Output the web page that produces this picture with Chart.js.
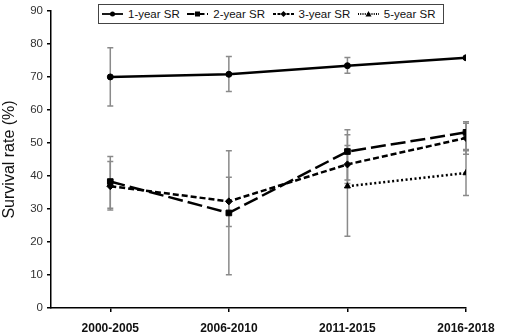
<!DOCTYPE html>
<html>
<head>
    <script src="https://cdn.jsdelivr.net/npm/chart.js@4.4.0/dist/chart.umd.min.js"></script>
    <style>
        body { margin: 0; background: #fff; }
        #wrap { position: relative; width: 510px; height: 335px; }
        #legend {
            position: absolute; left: 98px; top: 4px; width: 341px; height: 18px;
            border: 1px solid #444; background: #fff;
            font-family: "Liberation Sans", Arial, sans-serif; font-size: 11.5px; color: #111;
            display: flex; align-items: center; padding-left: 3px; box-sizing: content-box;
        }
        #legend .item { display: flex; align-items: center; width: 87px; white-space: nowrap; }
        #legend svg { margin-right: 5px; }
    </style>
</head>
<body>
<div id="wrap">
    <canvas id="srChart"></canvas>
    <div id="legend"></div>
</div>
<script>
    // periods on the x axis
    var categories = ['2000-2005', '2006-2010', '2011-2015', '2016-2018'];
    var yTicks = [0, 10, 20, 30, 40, 50, 60, 70, 80, 90];

    // survival rates (%)
    var sr1 = [70.0, 70.8, 73.4, 75.8];
    var sr2 = [38.3, 28.8, 47.4, 53.2];
    var sr3 = [36.9, 32.3, 43.5, 51.5];
    var sr5 = [null, null, 36.9, 40.9];

    // error bar ends (low / high)
    var sr1Low = [61.2, 65.6, 71.1, null];
    var sr1High = [78.8, 76.2, 75.9, null];
    var sr2Low = [29.7, 10.1, 38.8, 48.0];
    var sr2High = [45.9, 47.6, 54.0, 56.4];
    var sr3Low = [30.2, 24.7, 37.7, 46.6];
    var sr3High = [44.4, 39.6, 52.5, 56.0];
    var sr5Low = [null, null, 21.7, 34.1];
    var sr5High = [null, null, 49.2, 47.6];

    function toPoints(vals) {
        var pts = [];
        vals.forEach(function(v, i) { if (v !== null) pts.push({ x: i, y: v }); });
        return pts;
    }

    var series = [
        { label: '1-year SR', data: sr1, low: sr1Low, high: sr1High, dash: [], style: 'circle', r: 3 },
        { label: '2-year SR', data: sr2, low: sr2Low, high: sr2High, dash: [15, 5], style: 'rect', r: 4 },
        { label: '3-year SR', data: sr3, low: sr3Low, high: sr3High, dash: [6, 3], style: 'rectRot', r: 3.5 },
        { label: '5-year SR', data: sr5, low: sr5Low, high: sr5High, dash: [2, 2.5], style: 'triangle', r: 3.5 }
    ];

    // gray whiskers drawn behind the lines
    var errorBars = {
        id: 'errorBars',
        beforeDatasetsDraw: function(chart) {
            var ctx = chart.ctx, xs = chart.scales.x, ys = chart.scales.y;
            ctx.save();
            ctx.strokeStyle = '#8a8a8a';
            ctx.lineWidth = 1.5;
            series.forEach(function(s) {
                s.data.forEach(function(v, i) {
                    if (v === null || s.low[i] === null) return;
                    var x = xs.getPixelForValue(i);
                    var yl = ys.getPixelForValue(s.low[i]);
                    var yh = ys.getPixelForValue(s.high[i]);
                    ctx.beginPath();
                    ctx.moveTo(x, yl); ctx.lineTo(x, yh);
                    ctx.moveTo(x - 3, yl); ctx.lineTo(x + 3, yl);
                    ctx.moveTo(x - 3, yh); ctx.lineTo(x + 3, yh);
                    ctx.stroke();
                });
            });
            ctx.restore();
        }
    };

    var font = "'Liberation Sans', Arial, sans-serif";

    var chart = new Chart(document.getElementById('srChart').getContext('2d'), {
        type: 'line',
        data: {
            datasets: series.map(function(s) {
                return {
                    label: s.label,
                    data: toPoints(s.data),
                    borderColor: '#000',
                    backgroundColor: '#000',
                    borderWidth: 2.5,
                    borderDash: s.dash,
                    pointStyle: s.style,
                    pointRadius: s.r,
                    pointBorderWidth: 1,
                    pointBackgroundColor: '#000',
                    pointBorderColor: '#000',
                    tension: 0,
                    fill: false
                };
            })
        },
        options: {
            responsive: true,
            maintainAspectRatio: false,
            animation: false,
            layout: { padding: { top: 10, right: 44, left: 0, bottom: 0 } },
            plugins: { legend: { display: false }, tooltip: { enabled: false } },
            scales: {
                x: {
                    type: 'linear',
                    min: -0.5,
                    max: categories.length - 1,
                    afterBuildTicks: function(scale) {
                        scale.ticks = categories.map(function(c, i) { return { value: i }; });
                    },
                    afterFit: function(scale) { scale.height = 27; },
                    ticks: {
                        callback: function(v) { return categories[v]; },
                        font: { family: font, size: 12, weight: 'bold' },
                        color: '#111',
                        padding: 9,
                        maxRotation: 0
                    },
                    grid: { drawOnChartArea: false, drawTicks: true, tickLength: 4, color: '#000', lineWidth: 1.5 },
                    border: { display: true, color: '#000', width: 1.5 }
                },
                y: {
                    min: 0,
                    max: 90,
                    afterBuildTicks: function(scale) {
                        scale.ticks = yTicks.map(function(t) { return { value: t }; });
                    },
                    afterFit: function(scale) { scale.width = 51; },
                    ticks: {
                        font: { family: font, size: 11.5 },
                        color: '#333',
                        padding: 4
                    },
                    title: {
                        display: true,
                        text: 'Survival rate (%)',
                        font: { family: font, size: 16 },
                        color: '#111',
                        padding: { top: 0, bottom: 0 }
                    },
                    grid: { drawOnChartArea: false, drawTicks: true, tickLength: 4, color: '#000', lineWidth: 1.5 },
                    border: { display: true, color: '#000', width: 1.5 }
                }
            }
        },
        plugins: [errorBars]
    });

    // boxed legend with line + marker samples
    function markerSvg(style, cx, cy) {
        if (style === 'circle') return '<circle cx="' + cx + '" cy="' + cy + '" r="2.5" fill="#000"/>';
        if (style === 'rect') return '<rect x="' + (cx - 2.5) + '" y="' + (cy - 2.5) + '" width="5" height="5" fill="#000"/>';
        if (style === 'rectRot') return '<polygon points="' + cx + ',' + (cy - 3) + ' ' + (cx + 3) + ',' + cy + ' ' + cx + ',' + (cy + 3) + ' ' + (cx - 3) + ',' + cy + '" fill="#000"/>';
        return '<polygon points="' + cx + ',' + (cy - 3) + ' ' + (cx + 3) + ',' + (cy + 2.5) + ' ' + (cx - 3) + ',' + (cy + 2.5) + '" fill="#000"/>';
    }
    var legendHtml = '';
    series.forEach(function(s) {
        var dash = s.dash.length ? ' stroke-dasharray="' + s.dash.map(function(d) { return d * 0.5; }).join(',') + '"' : '';
        legendHtml += '<div class="item"><svg width="21" height="10">' +
            '<line x1="0" y1="5" x2="21" y2="5" stroke="#000" stroke-width="1.8"' + dash + '/>' +
            markerSvg(s.style, 10.5, 5) + '</svg><span>' + s.label + '</span></div>';
    });
    document.getElementById('legend').innerHTML = legendHtml;
</script>
</body>
</html>
